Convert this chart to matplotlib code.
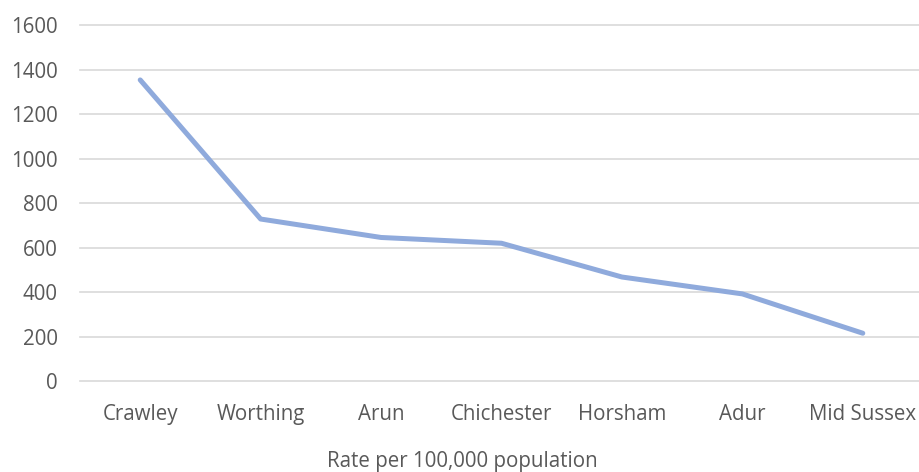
import matplotlib
matplotlib.use('Agg')
import matplotlib.pyplot as plt

areas = ['Crawley', 'Worthing', 'Arun', 'Chichester', 'Horsham', 'Adur', 'Mid Sussex']
rates = [1355, 729, 646, 620, 468, 392, 215]
yticks = [0, 200, 400, 600, 800, 1000, 1200, 1400, 1600]

plt.rcParams['font.family'] = ['Open Sans', 'DejaVu Sans']
txt = '#595959'
fs = 14.8

fig = plt.figure(figsize=(9.2, 4.72), dpi=100)
ax = fig.add_axes([80 / 920, (472 - 381) / 472, 843 / 920, (381 - 25.5) / 472])

ax.plot(range(len(areas)), rates, color='#8FAADC', linewidth=3.6, solid_capstyle='round')

ax.set_xlim(-0.5, len(areas) - 0.5)
ax.set_ylim(0, 1600)
ax.set_yticks(yticks)
ax.set_yticklabels([str(v) for v in yticks])
ax.set_xticks(range(len(areas)))
ax.set_xticklabels(areas)
ax.grid(axis='y', color='#D9D9D9', linewidth=1.2)
for gl in ax.get_ygridlines():
    gl.set_clip_on(False)
ax.set_axisbelow(True)
for s in ax.spines.values():
    s.set_visible(False)
ax.tick_params(axis='both', length=0, labelsize=fs, colors=txt)
ax.tick_params(axis='x', pad=16.5)
ax.tick_params(axis='y', pad=16)

fig.text(462 / 920, 1 - 461 / 472, 'Rate per 100,000 population', fontsize=fs,
         color=txt, ha='center', va='center')

fig.savefig('out.png', dpi=100)
